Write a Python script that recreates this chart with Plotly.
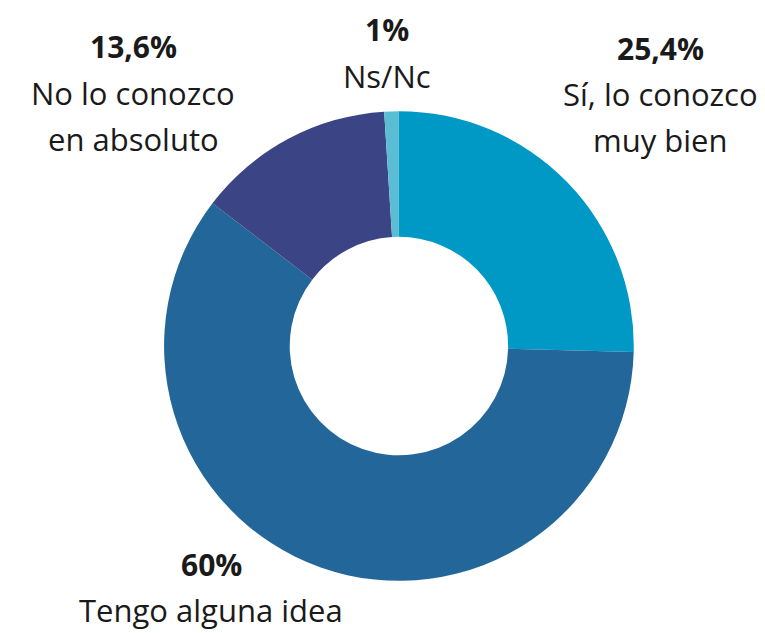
import plotly.graph_objects as go

labels = ["Sí, lo conozco<br>muy bien", "Tengo alguna idea", "No lo conozco<br>en absoluto", "Ns/Nc"]
values = [25.4, 60, 13.6, 1]
pct_text = ["25,4%", "60%", "13,6%", "1%"]
colors = ["#0099c6", "#23679a", "#3b4484", "#5bbdd4"]

# label placement in pixels from top-left: (x center, y of percent line)
label_px = [(652, 40), (203, 556), (125, 39), (379, 22)]
line_gap = 46

W, H = 765, 633

fig = go.Figure(go.Pie(
    labels=labels,
    values=values,
    hole=0.465,
    sort=False,
    direction="clockwise",
    rotation=0,
    marker=dict(colors=colors, line=dict(width=0)),
    textinfo="none",
    showlegend=False,
    domain=dict(x=[0.204, 0.818], y=[0.095, 0.837]),
))

for lab, pct, (px, py) in zip(labels, pct_text, label_px):
    lines = ["<b>" + pct + "</b>"] + lab.split("<br>")
    for i, line in enumerate(lines):
        fig.add_annotation(
            x=px / W, y=1 - (py + i * line_gap) / H,
            xref="paper", yref="paper",
            text=line, showarrow=False,
            xanchor="center", yanchor="middle",
            font=dict(family="Open Sans", size=31 if i else 30, color="#1a1a1a"),
        )

fig.update_layout(
    width=W, height=H,
    margin=dict(l=0, r=0, t=0, b=0),
    paper_bgcolor="white", plot_bgcolor="white",
)
fig.write_html("out.html")
